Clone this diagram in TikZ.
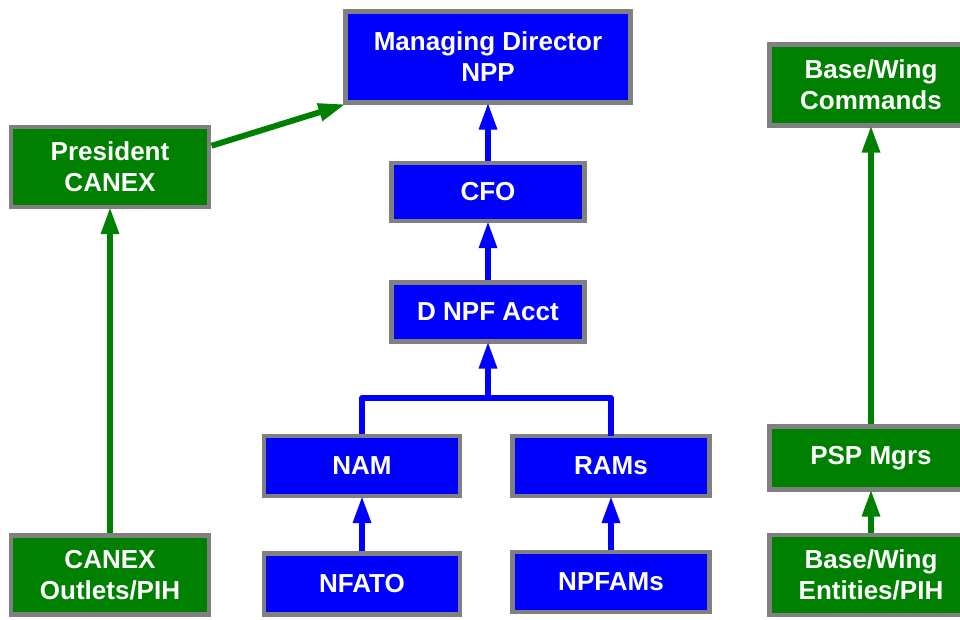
\documentclass[tikz,border=0pt]{standalone}
\usepackage{fontspec}
\setmainfont{Liberation Sans}
\usetikzlibrary{arrows.meta,calc}
\definecolor{orgblue}{RGB}{0,0,255}
\definecolor{orggreen}{RGB}{0,128,0}
\definecolor{orggray}{RGB}{128,128,128}

\begin{document}
\begin{tikzpicture}[x=0.025cm, y=-0.025cm,
            >={Triangle[length=0.675cm,width=0.425cm]},
            box/.style = {draw=orggray, line width=3.5pt, text=white, align=center,
                    inner sep=1mm, minimum width=4.9cm, minimum height=1.5cm,
                    font=\bfseries\fontsize{18.5}{22}\selectfont},
            bluebox/.style = {box, fill=orgblue},
            greenbox/.style = {box, fill=orggreen},
            blueline/.style = {draw=orgblue, line width=4.2pt, line join=round, shorten >=-1.75pt},
            greenline/.style = {draw=orggreen, line width=4.2pt, line join=round, shorten >=-1.75pt},
        ]
        \useasboundingbox (0,0) rectangle (960,619);

        % NPP chain
        \node[bluebox, minimum width=7.125cm, minimum height=2.275cm] (md) at (488,57) {Managing Director\\NPP};
        \node[bluebox, minimum width=4.825cm, minimum height=1.45cm] (cfo) at (488,192) {CFO};
        \node[bluebox, minimum width=4.825cm, minimum height=1.475cm] (acct) at (488,312) {D NPF Acct};
        \node[bluebox] (nam) at (362,466) {NAM};
        \node[bluebox, minimum width=4.925cm] (rams) at (611,466) {RAMs};
        \node[bluebox, minimum height=1.525cm] (nfato) at (362,584) {NFATO};
        \node[bluebox, minimum width=4.925cm] (npfams) at (611,582) {NPFAMs};

        % CANEX
        \node[greenbox, minimum width=4.95cm, minimum height=2cm] (pres) at (110,167) {President\\CANEX};
        \node[greenbox, minimum width=4.95cm, minimum height=1.975cm] (outlets) at (110,575) {CANEX\\Outlets/PIH};

        % Base/Wing
        \node[greenbox, minimum width=5.075cm, minimum height=2.025cm] (bwc) at (871,85) {Base/Wing\\Commands};
        \node[greenbox, minimum width=5.075cm, minimum height=1.575cm] (psp) at (871,458) {PSP Mgrs};
        \node[greenbox, minimum width=5.075cm, minimum height=2cm] (bwe) at (871,575) {Base/Wing\\Entities/PIH};

        \coordinate (join) at (488,398);

        \draw[blueline, ->] (cfo) -- (md);
        \draw[blueline, ->] (acct) -- (cfo);
        \draw[blueline] (nam.north) |- (join) -| (rams.north);
        \draw[blueline, ->] (join) -- (acct.south);
        \draw[blueline, ->] (nfato) -- (nam);
        \draw[blueline, ->] (npfams) -- (rams);

        \draw[greenline, ->] (outlets) -- (pres);
        \draw[greenline, ->] ($(pres.east)!0.5!(pres.north east)$) -- (md.south west);
        \draw[greenline, ->] (psp) -- (bwc);
        \draw[greenline, ->] (bwe) -- (psp);
    \end{tikzpicture}
\end{document}
